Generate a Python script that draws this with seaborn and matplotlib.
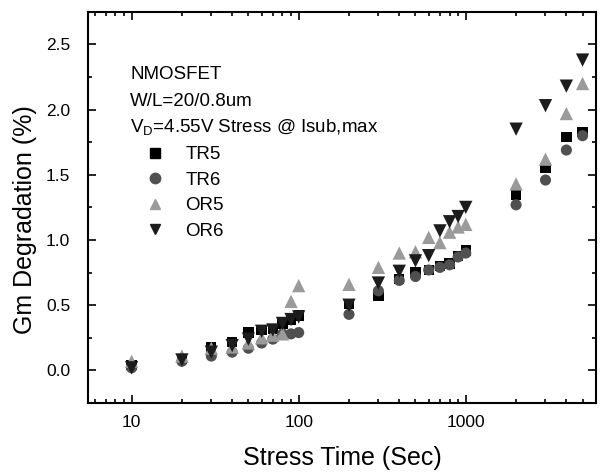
import numpy as np
import pandas as pd
import matplotlib
matplotlib.use("Agg")
import matplotlib.pyplot as plt
import seaborn as sns
from matplotlib.ticker import LogLocator, MultipleLocator, NullFormatter, FixedLocator, FixedFormatter

# Datos (tiempo de estres en s, degradacion de Gm en %)
tiempo = [10, 20, 30, 40, 50, 60, 70, 80, 90, 100,
          200, 300, 400, 500, 600, 700, 800, 900, 1000,
          2000, 3000, 4000, 5000]
tr5 = [0.04, 0.09, 0.18, 0.22, 0.29, 0.31, 0.32, 0.36, 0.39, 0.42,
       0.51, 0.57, 0.70, 0.75, 0.77, 0.80, 0.82, 0.88, 0.92,
       1.35, 1.55, 1.79, 1.83]
tr6 = [0.02, 0.07, 0.11, 0.14, 0.17, 0.21, 0.24, 0.28, 0.28, 0.29,
       0.43, 0.61, 0.69, 0.72, 0.77, 0.79, 0.81, 0.87, 0.90,
       1.27, 1.46, 1.69, 1.80]
or5 = [0.07, 0.11, 0.17, 0.18, 0.21, 0.25, 0.27, 0.28, 0.53, 0.65,
       0.66, 0.79, 0.90, 0.91, 1.02, 0.98, 1.06, 1.10, 1.12,
       1.43, 1.62, 1.97, 2.20]
or6 = [0.02, 0.08, 0.14, 0.19, 0.24, 0.30, 0.31, 0.36, 0.39, 0.41,
       0.50, 0.67, 0.76, 0.84, 0.88, 1.07, 1.14, 1.18, 1.25,
       1.85, 2.03, 2.18, 2.38]
series = ["TR5", "TR6", "OR5", "OR6"]
x_ticks = [10, 100, 1000]
x_tick_labels = ["10", "100", "1000"]

df = pd.DataFrame({
    "t": tiempo * 4,
    "v": tr5 + tr6 + or5 + or6,
    "serie": np.repeat(series, len(tiempo)),
})

sns.set_style("ticks")
plt.rcParams["font.family"] = ["Liberation Sans", "DejaVu Sans"]
plt.rcParams["mathtext.fontset"] = "custom"
plt.rcParams["mathtext.rm"] = "Liberation Sans"
plt.rcParams["mathtext.it"] = "Liberation Sans"
for k in ["text.color", "axes.labelcolor", "xtick.color", "ytick.color", "axes.edgecolor"]:
    plt.rcParams[k] = "black"

colores = {"TR5": "#000000", "TR6": "#505050", "OR5": "#9a9a9a", "OR6": "#1c1c1c"}
marcadores = {"TR5": "s", "TR6": "o", "OR5": "^", "OR6": "v"}
tamanos = {"TR5": 55, "TR6": 64, "OR5": 92, "OR6": 92}

fig = plt.figure(figsize=(6, 4.73), dpi=100)
ax = fig.add_axes([0.147, 0.148, 0.846, 0.827])

sns.scatterplot(data=df, x="t", y="v", hue="serie", style="serie", size="serie",
                palette=colores, markers=marcadores, sizes=tamanos, linewidth=0,
                ax=ax, legend=False)

ax.set_xscale("log")
ax.set_xlim(5.5, 6000)
ax.set_ylim(-0.25, 2.75)
ax.xaxis.set_major_locator(FixedLocator(x_ticks))
ax.xaxis.set_major_formatter(FixedFormatter(x_tick_labels))
ax.xaxis.set_minor_locator(LogLocator(base=10, subs=np.arange(2, 10)))
ax.xaxis.set_minor_formatter(NullFormatter())
ax.yaxis.set_major_locator(MultipleLocator(0.5))
ax.yaxis.set_minor_locator(MultipleLocator(0.25))
ax.yaxis.set_major_formatter(plt.FormatStrFormatter("%.1f"))

ax.tick_params(which="both", direction="in", top=True, right=True,
               labeltop=False, labelright=False, width=1.2, labelsize=12.5)
ax.tick_params(which="major", length=6)
ax.tick_params(axis="y", which="major", pad=13)
ax.tick_params(axis="x", which="major", pad=9)
ax.tick_params(which="minor", length=3)
for s in ax.spines.values():
    s.set_linewidth(1.5)

ax.set_xlabel("Stress Time (Sec)", fontsize=18, labelpad=11)
ax.set_ylabel("Gm Degradation (%)", fontsize=18)
ax.yaxis.set_label_coords(-0.1, 0.468)

ax.text(0.083, 0.839, "NMOSFET", transform=ax.transAxes, fontsize=13.5, va="center")
ax.text(0.083, 0.770, "W/L=20/0.8um", transform=ax.transAxes, fontsize=13.5, va="center")
ax.text(0.083, 0.706, r"V$_\mathrm{D}$=4.55V Stress @ Isub,max", transform=ax.transAxes,
        fontsize=13.5, va="center")

handles = [plt.Line2D([], [], linestyle="", marker=marcadores[k], color=colores[k],
                      markersize=7.5) for k in series]
ax.legend(handles, series, loc="upper left", bbox_to_anchor=(0.116, 0.657),
          frameon=False, fontsize=13.5, handlelength=0.8, handletextpad=1.25,
          borderaxespad=0, borderpad=0, labelspacing=0.45)

plt.savefig("out.png", dpi=100)
